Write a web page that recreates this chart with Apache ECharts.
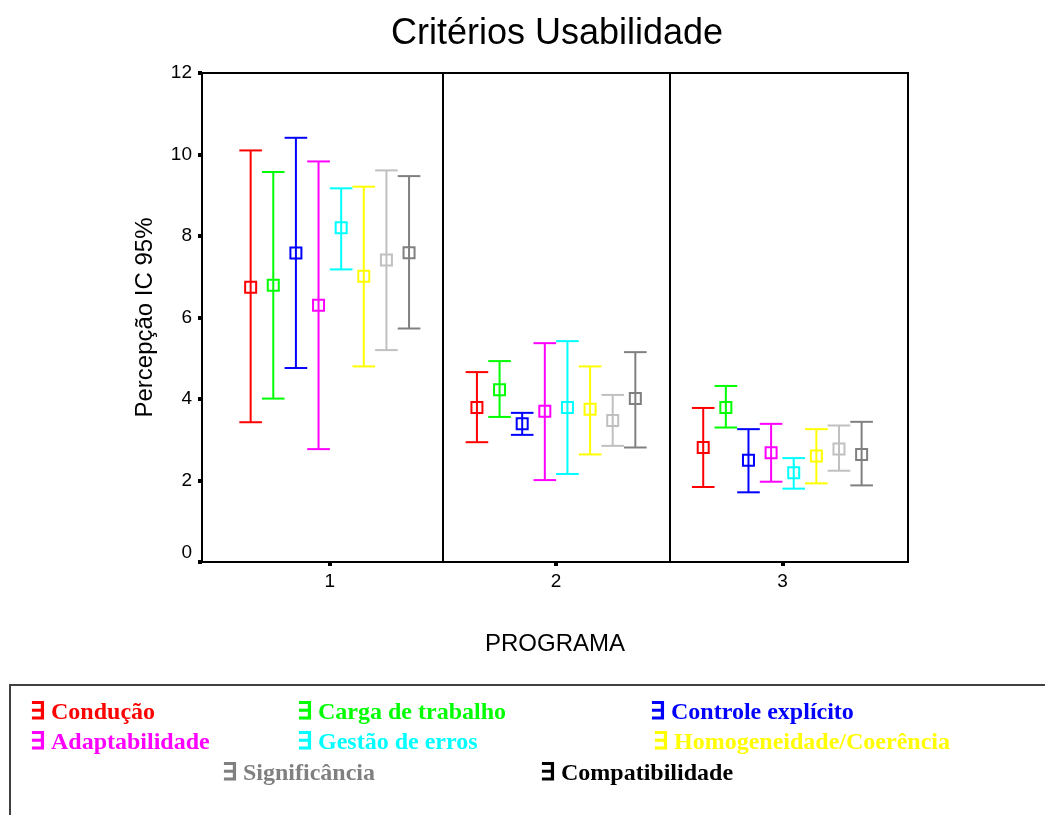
<!DOCTYPE html>
<html>
<head>
<meta charset="utf-8">
<style>html,body{margin:0;padding:0;background:#fff;}#chart{width:1045px;height:815px;}</style>
<script src="https://cdn.jsdelivr.net/npm/echarts@6/dist/echarts.min.js"></script>
</head>
<body>
<div id="chart"></div>
<script>
const categories = [1, 2, 3];
const tickLabels = ['1', '2', '3'];
const seriesNames = ['Condução', 'Carga de trabalho', 'Controle explícito', 'Adaptabilidade',
  'Gestão de erros', 'Homogeneidade/Coerência', 'Significância', 'Compatibilidade'];
const meanValues = [
  [6.74, 3.79, 2.81],
  [6.79, 4.23, 3.79],
  [7.58, 3.39, 2.50],
  [6.30, 3.70, 2.68],
  [8.20, 3.79, 2.19],
  [7.01, 3.75, 2.60],
  [7.41, 3.47, 2.77],
  [7.59, 4.01, 2.64]
];
const lowerValues = [
  [3.43, 2.94, 1.84],
  [4.01, 3.56, 3.30],
  [4.76, 3.12, 1.71],
  [2.77, 2.01, 1.97],
  [7.18, 2.16, 1.80],
  [4.80, 2.64, 1.93],
  [5.20, 2.85, 2.24],
  [5.73, 2.81, 1.88]
];
const upperValues = [
  [10.10, 4.66, 3.78],
  [9.57, 4.93, 4.32],
  [10.41, 3.66, 3.26],
  [9.83, 5.37, 3.39],
  [9.17, 5.42, 2.55],
  [9.21, 4.80, 3.26],
  [9.61, 4.10, 3.35],
  [9.47, 5.15, 3.44]
];
const yTicks = [0, 2, 4, 6, 8, 10, 12];

// styles / layout
const plotColors = ['#ff0000', '#00ff00', '#0000ff', '#ff00ff', '#00ffff', '#ffff00', '#c0c0c0', '#808080'];
const legendColors = ['#ff0000', '#00ff00', '#0000ff', '#ff00ff', '#00ffff', '#ffff00', '#808080', '#000000'];
const legendLayout = [[30, 713], [297, 713], [650, 713], [30, 743], [297, 743], [653, 743], [222, 774], [540, 774]];
const sans = '"Liberation Sans", Arial, sans-serif';

const chart = echarts.init(document.getElementById('chart'), null, { renderer: 'canvas' });

function renderErrorBar(params, api) {
  const x = api.value(0), lo = api.value(1), m = api.value(2), hi = api.value(3);
  const top = api.coord([x, hi]);
  const bot = api.coord([x, lo]);
  const mid = api.coord([x, m]);
  const half = api.size([0.1, 0])[0] / 2;
  const color = api.visual('color');
  const ls = { stroke: color, lineWidth: 2 };
  const sq = 11;
  return {
    type: 'group',
    children: [
      { type: 'line', shape: { x1: top[0], y1: top[1], x2: bot[0], y2: bot[1] }, style: ls },
      { type: 'line', shape: { x1: top[0] - half, y1: top[1], x2: top[0] + half, y2: top[1] }, style: ls },
      { type: 'line', shape: { x1: bot[0] - half, y1: bot[1], x2: bot[0] + half, y2: bot[1] }, style: ls },
      { type: 'rect', shape: { x: mid[0] - sq / 2, y: mid[1] - sq / 2, width: sq, height: sq },
        style: { fill: 'none', stroke: color, lineWidth: 2 } }
    ]
  };
}

const series = seriesNames.map((name, i) => ({
  name: name,
  type: 'custom',
  renderItem: renderErrorBar,
  clip: false,
  itemStyle: { color: plotColors[i] },
  encode: { x: 0, y: [1, 2, 3] },
  data: categories.map((c, j) => [c + (i - 3.5) * 0.1, lowerValues[i][j], meanValues[i][j], upperValues[i][j]]),
  z: 3
}));

series.push({
  type: 'line',
  data: [],
  silent: true,
  markLine: {
    silent: true,
    symbol: 'none',
    label: { show: false },
    lineStyle: { color: '#000', width: 2, type: 'solid' },
    data: [{ xAxis: 1.5 }, { xAxis: 2.5 }]
  }
});

const legendGraphics = seriesNames.map((name, i) => ({
  type: 'text',
  x: legendLayout[i][0],
  y: legendLayout[i][1],
  style: {
    text: '∃ ' + name,
    fill: legendColors[i],
    font: 'bold 24px "Liberation Serif", "Times New Roman", serif',
    verticalAlign: 'middle',
    align: 'left'
  }
}));

const option = {
  backgroundColor: '#fff',
  animation: false,
  title: {
    text: 'Critérios Usabilidade',
    left: 552,
    textAlign: 'center',
    top: 11,
    textStyle: { fontFamily: sans, fontSize: 36, fontWeight: 'normal', color: '#000' }
  },
  grid: {
    left: 202, top: 73, width: 706, height: 489,
    show: true, borderColor: '#000', borderWidth: 2, backgroundColor: 'transparent'
  },
  xAxis: {
    type: 'value',
    min: 0.435,
    max: 3.555,
    name: 'PROGRAMA',
    nameLocation: 'middle',
    nameGap: 70,
    nameTextStyle: { fontFamily: sans, fontSize: 24, color: '#000' },
    axisLine: { show: true, onZero: false, lineStyle: { color: '#000', width: 2 } },
    axisTick: { show: true, customValues: categories, length: 4, lineStyle: { color: '#000', width: 4 } },
    axisLabel: {
      show: true,
      customValues: categories,
      formatter: v => tickLabels[categories.indexOf(Math.round(v))] || '',
      fontFamily: sans, fontSize: 19, color: '#000', margin: 10
    },
    splitLine: { show: false }
  },
  yAxis: {
    type: 'value',
    min: 0,
    max: 12,
    interval: 2,
    name: 'Percepção IC 95%',
    nameLocation: 'middle',
    nameRotate: 90,
    nameGap: 45,
    nameTextStyle: { fontFamily: sans, fontSize: 24, color: '#000' },
    axisLine: { show: true, lineStyle: { color: '#000', width: 2 } },
    axisTick: { show: true, length: 4, lineStyle: { color: '#000', width: 4 } },
    axisLabel: {
      fontFamily: sans, fontSize: 19, color: '#000', margin: 10,
      formatter: v => (yTicks.indexOf(v) < 0 ? '' : (v === 0 ? '{zero|0}' : String(v))),
      rich: { zero: { fontFamily: sans, fontSize: 19, color: '#000', padding: [0, 0, 18, 0] } }
    },
    splitLine: { show: false }
  },
  graphic: [
    {
      type: 'rect',
      shape: { x: 10, y: 685, width: 1100, height: 200 },
      style: { fill: 'none', stroke: '#404040', lineWidth: 2 },
      z: 1
    }
  ].concat(legendGraphics),
  series: series
};

chart.setOption(option);
</script>
</body>
</html>
